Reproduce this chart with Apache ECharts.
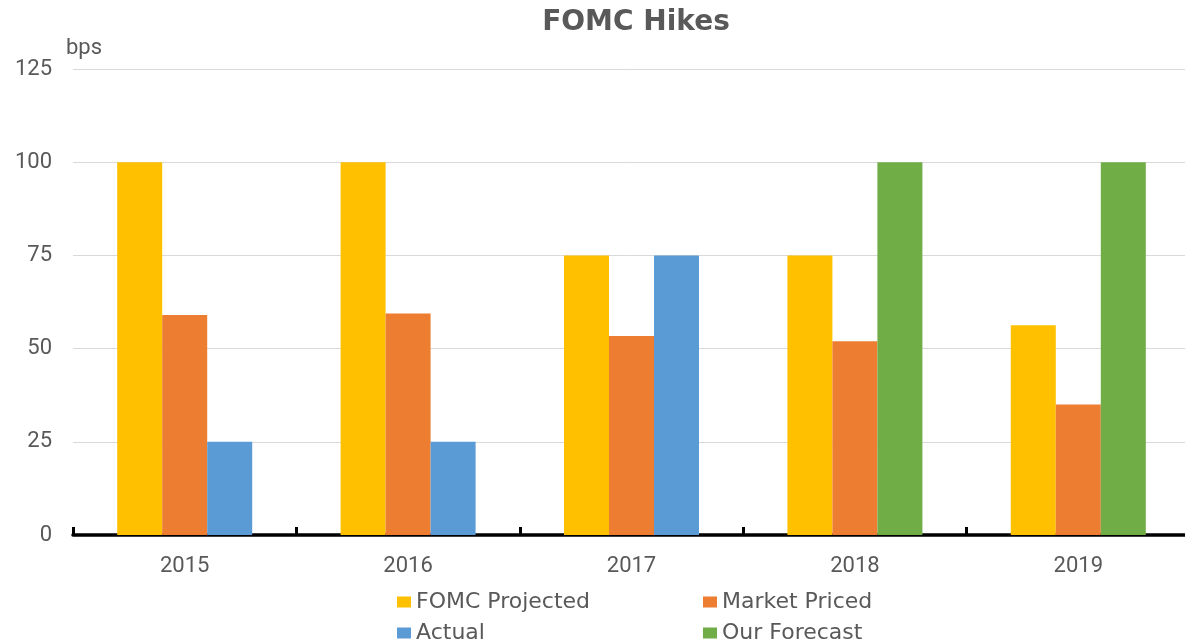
<!DOCTYPE html>
<html>
<head>
<meta charset="utf-8">
<script src="https://cdn.jsdelivr.net/npm/echarts@6/dist/echarts.min.js"></script>
<style>
  html, body { margin: 0; padding: 0; background: #fff; overflow: hidden; }
  /* plot runs a few px past the right edge in the original */
  #main { width: 1190px; height: 644px; }
</style>
</head>
<body>
<div id="main"></div>
<script>
// chart data
var years = ['2015', '2016', '2017', '2018', '2019'];
var fomcProjected = [100, 100, 75, 75, 56.25];
var marketPriced = [59, 59.4, 53.4, 52, 35];
var actual = [25, 25, 75, '-', '-'];
var ourForecast = ['-', '-', '-', 100, 100];

var chart = echarts.init(document.getElementById('main'));

// one legend per item so the 2x2 layout matches the original
function legendItem(name, left, top) {
  return {
    data: [name],
    left: left,
    top: top,
    padding: 0,
    itemWidth: 14,
    itemHeight: 11,
    icon: 'rect',
    textStyle: { color: '#595959', fontFamily: 'DejaVu Sans', fontSize: 22 }
  };
}

var option = {
  animation: false,
  graphic: [{
    type: 'text',
    x: 636,
    y: 23,
    style: {
      text: 'FOMC Hikes',
      fill: '#595959',
      font: 'bold 28px "DejaVu Sans"',
      textAlign: 'center',
      textVerticalAlign: 'middle'
    }
  }, {
    type: 'text',
    x: 66,
    y: 48,
    style: {
      text: 'bps',
      fill: '#595959',
      font: '22px Roboto',
      textVerticalAlign: 'middle'
    }
  }],
  legend: [
    legendItem('FOMC Projected', 397, 591),
    legendItem('Market Priced', 703, 591),
    legendItem('Actual', 397, 622),
    legendItem('Our Forecast', 703, 622)
  ],
  grid: {
    left: 73,
    top: 69,
    right: 0,
    height: 466,
    containLabel: false
  },
  xAxis: {
    type: 'category',
    data: years,
    axisLine: { lineStyle: { color: '#000', width: 3.5 } },
    axisTick: { show: true, inside: true, length: 8, lineStyle: { color: '#000', width: 3 } },
    axisLabel: { color: '#595959', fontFamily: 'Roboto', fontSize: 22, margin: 20 }
  },
  yAxis: {
    type: 'value',
    min: 0,
    max: 125,
    interval: 25,
    axisLine: { show: false },
    axisTick: { show: false },
    axisLabel: { color: '#595959', fontFamily: 'Roboto', fontSize: 22, margin: 21 },
    splitLine: { lineStyle: { color: '#d9d9d9', width: 1 } }
  },
  series: [{
    name: 'FOMC Projected',
    type: 'bar',
    data: fomcProjected,
    barWidth: 45,
    barGap: '0%',
    itemStyle: { color: '#FFC000' }
  }, {
    name: 'Market Priced',
    type: 'bar',
    data: marketPriced,
    barWidth: 45,
    barGap: '0%',
    itemStyle: { color: '#ED7D31' }
  }, {
    name: 'Actual',
    type: 'bar',
    stack: 'third',
    data: actual,
    barWidth: 45,
    barGap: '0%',
    itemStyle: { color: '#5B9BD5' }
  }, {
    name: 'Our Forecast',
    type: 'bar',
    stack: 'third',
    data: ourForecast,
    barWidth: 45,
    barGap: '0%',
    itemStyle: { color: '#70AD47' }
  }]
};

chart.setOption(option);
</script>
</body>
</html>
